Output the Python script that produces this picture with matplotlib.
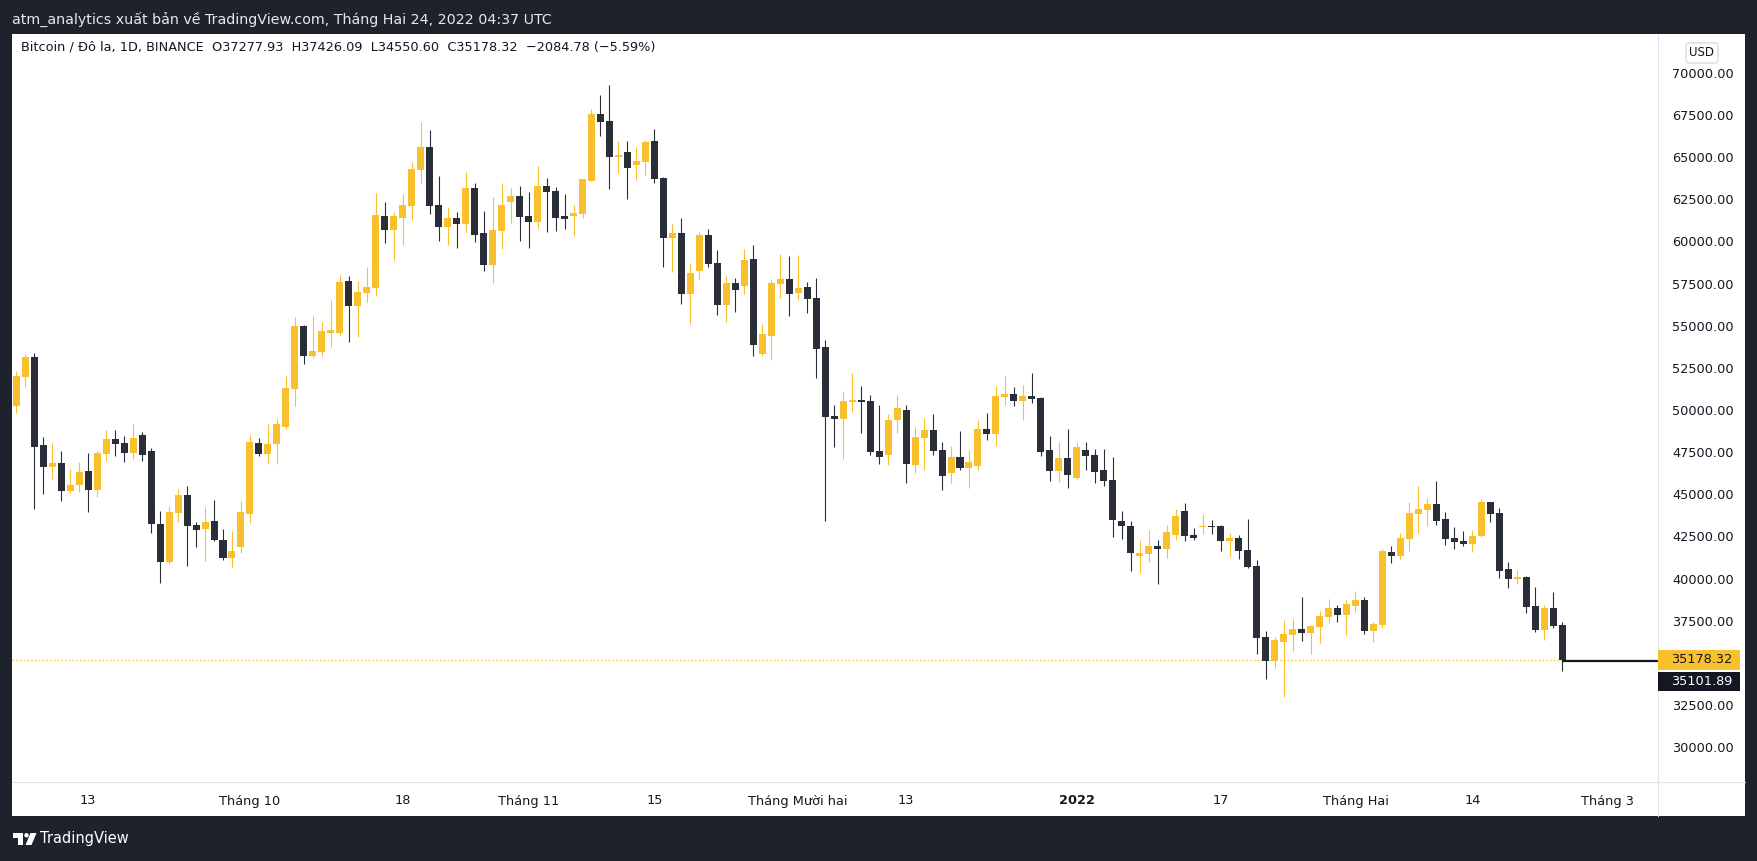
import matplotlib
matplotlib.use("Agg")
import matplotlib.pyplot as plt
import matplotlib.dates as mdates
from matplotlib import transforms
from matplotlib.lines import Line2D
from matplotlib.patches import Rectangle, Circle, Polygon
import pandas as pd

# daily BTC candles, 2021-09-05 .. 2022-02-24
dates = pd.date_range("2021-09-05", "2022-02-24", freq="D")

opens = [
    50256, 51976, 53143, 47904, 46638, 46856, 45215, 45551, 46381, 45274,
    47409, 48279, 48042, 47469, 48516, 47567, 43238, 41004, 43910, 44958,
    43159, 42961, 43416, 42289, 41241, 41893,
    43848, 48040, 47407, 48000, 49008, 51262, 54979, 53219, 53457, 54584,
    54584, 57648, 56185, 56956, 57252, 61503, 60692, 61404, 62116, 64251,
    65595, 62155, 60870, 61384, 61048, 63164, 60494, 58616, 60633, 62353,
    62689,
    61503, 61167, 63282, 62985, 61503, 61523, 61641, 63598, 67552, 67137,
    65022, 65299, 64547, 64725, 65951, 63757, 60218, 60494, 56896, 58260,
    60376, 58717, 56246, 57531, 57372, 58954, 53339, 54407, 57491, 57768,
    56957, 57294, 56641, 53735, 49642, 49484, 50493, 50591, 50532, 47567,
    47349, 49425, 49998, 46756, 48358, 48812, 47627, 46283, 47212, 46579,
    46698, 48873, 48596, 50790, 50948, 50553, 50830, 50711, 47627, 46401,
    47153,
    45986, 47627, 47331, 46441, 45848, 43416, 43119, 41360, 41479, 41933,
    41757, 42587, 44010, 42587, 43061, 43121, 43121, 42231, 42409, 41697,
    40748, 36537, 35134, 36241, 36656, 37012, 36775, 37130, 37723, 38257,
    37842,
    38376, 38732, 36893, 37249, 41579, 41341, 42350, 43832, 44070, 44425,
    43536, 42409, 42231, 42053, 42528, 44544, 43892, 40570, 39977, 40096,
    38376, 36952, 38257, 37277.93,
]
highs = [
    52293, 53321, 53380, 48398, 48042, 47567, 46500, 46915, 47449, 47627,
    48813, 48813, 48457, 49169, 48694, 47745, 44009, 44305, 45314, 45492,
    43356, 44246, 44661, 42941, 42823, 44602,
    48514, 48336, 49167, 49463, 52013, 55513, 55038, 55572, 55216, 56521,
    58004, 57944, 57648, 58478, 62867, 62333, 61740, 62808, 64706, 67078,
    66604, 63875, 62037, 61740, 64113, 63460, 61799, 62630, 63460, 63163,
    63282,
    62926, 64468, 63757, 63223, 62808, 62155, 63697, 67849, 68679, 69272,
    65951, 65951, 65595, 66010, 66663, 63816, 61028, 61384, 58715, 60554,
    60732, 59488, 58005, 57827, 59547, 59784, 55099, 57768, 59251, 59132,
    59191, 57590, 57827, 54150, 50295, 51125, 52193, 51422, 50888, 50295,
    49761, 50888, 50295, 48990, 49524, 49761, 48102, 47864, 48754, 47627,
    49406, 49822, 51423, 52016, 51364, 51482, 52194, 50771, 48457, 48102,
    48873,
    48102, 48102, 47686, 47686, 47212, 44009, 43416, 42289, 42882, 42289,
    43180, 44129, 44485, 43002, 43832, 43476, 43180, 42705, 42587, 43536,
    41104, 36893, 36537, 37545, 37605, 38910, 37249, 38079, 38791, 38435,
    38732,
    39266, 38910, 37427, 41757, 41934, 42705, 44544, 45493, 44781, 45790,
    43951, 43061, 42824, 42883, 44722, 44544, 44188, 40985, 40511, 40155,
    39503, 38435, 39206, 37426.09,
]
lows = [
    49841, 51383, 44147, 45037, 45927, 44622, 45096, 45156, 43969, 44859,
    46994, 47291, 46935, 47113, 47004, 42724, 39758, 40885, 43376, 40767,
    41893, 41063, 42249, 41122, 40707, 41538,
    43315, 47288, 46814, 46814, 48890, 50254, 52745, 53101, 53219, 53753,
    54406, 54050, 54346, 56422, 56778, 59921, 58913, 59803, 61286, 63421,
    61641, 60040, 59803, 59625, 60574, 59981, 58260, 57549, 59565, 61107,
    60040,
    59625, 60811, 60574, 60633, 60751, 60336, 61404, 63598, 66267, 63124,
    64073, 62531, 63638, 63934, 63480, 58498, 58201, 56303, 55117, 57786,
    58498, 55652, 55237, 55830, 56898, 53221, 53221, 52983, 56661, 55593,
    56542, 55771, 51916, 43435, 47823, 47112, 49899, 48654, 47349, 46815,
    46756, 48654, 45688, 46281, 46459, 47349, 45274, 45690, 46461, 45393,
    46461, 48240, 47884, 50316, 50257, 49426, 50434, 47291, 45808, 45749,
    45393,
    45927, 46461, 45690, 45512, 42487, 42368, 40471, 40352, 41004, 39699,
    41223, 42290, 42231, 42290, 42646, 42646, 41638, 41282, 41163, 40630,
    35529, 34046, 34718, 32998, 35707, 36300, 35529, 36181, 37368, 37427,
    36656,
    38020, 36715, 36241, 37071, 40926, 41163, 41638, 42705, 43121, 43180,
    41994, 41757, 41934, 41579, 42468, 43358, 40037, 39444, 39681, 37961,
    36834, 36359, 37071, 34550.60,
]
closes = [
    52016, 53143, 47824, 46638, 46856, 45215, 45551, 46322, 45274, 47449,
    48279, 48002, 47469, 48339, 47350, 43258, 41004, 43950, 44958, 43139,
    42882, 43356, 42289, 41241, 41636, 43950,
    48099, 47407, 47980, 49167, 51302, 54979, 53219, 53496, 54682, 54742,
    57589, 56185, 56995, 57292, 61562, 60692, 61503, 62155, 64291, 65595,
    62116, 60870, 61384, 61048, 63164, 60396, 58616, 60672, 62155, 62689,
    61463,
    61167, 63282, 62946, 61404, 61345, 61681, 63697, 67552, 67098, 65022,
    65121, 64369, 64765, 65892, 63717, 60218, 60494, 56896, 58122, 60376,
    58676, 56246, 57531, 57135, 58895, 53873, 54506, 57531, 57768, 56898,
    57234, 56601, 53636, 49603, 49484, 50532, 50591, 50493, 47527, 47230,
    49405, 50117, 46815, 48397, 48812, 47586, 46105, 47212, 46579, 46915,
    48873, 48596, 50830, 50948, 50553, 50830, 50672, 47528, 46401, 47153,
    46164,
    47805, 47291, 46342, 45808, 43495, 43139, 41538, 41538, 41933, 41775,
    42765, 43714, 42528, 42409, 43121, 43061, 42231, 42409, 41638, 40689,
    36478, 35134, 36359, 36715, 37012, 36775, 37190, 37783, 38257, 37842,
    38494,
    38732, 36893, 37308, 41638, 41341, 42409, 43892, 44129, 44425, 43417,
    42350, 42172, 42053, 42528, 44544, 43832, 40452, 39977, 40096, 38317,
    36952, 38257, 37190, 35178.32,
]

ref_line = 35101.89   # black horizontal line level

price_ticks = [30000, 32500, 37500, 40000, 42500, 45000, 47500, 50000,
               52500, 55000, 57500, 60000, 62500, 65000, 67500, 70000]
tick_dates = ["2021-09-13", "2021-10-01", "2021-10-18", "2021-11-01",
              "2021-11-15", "2021-12-01", "2021-12-13", "2022-01-01",
              "2022-01-17", "2022-02-01", "2022-02-14", "2022-03-01"]
tick_labels = ["13", "Tháng 10", "18", "Tháng 11", "15", "Tháng Mười hai",
               "13", "2022", "17", "Tháng Hai", "14", "Tháng 3"]

header = "atm_analytics xuất bản về TradingView.com, Tháng Hai 24, 2022 04:37 UTC"
legend = ("Bitcoin / Đô la, 1D, BINANCE  O37277.93  H37426.09  L34550.60  "
          "C35178.32  −2084.78 (−5.59%)")

UP = "#F9C02E"
DOWN = "#2A2E39"
TXT = "#131722"
GRID = "#E0E3EB"
BG = "#1E222D"

W, H = 1758, 861
def fx(px):
    return px / W
def fy(py):
    return 1 - py / H

plt.rcParams["font.family"] = ["DejaVu Sans"]

fig = plt.figure(figsize=(W / 100, H / 100), dpi=100, facecolor=BG)

# white chart panel
fig.add_artist(Rectangle((fx(12.5), fy(816)), fx(1745) - fx(12.5), fy(34) - fy(816),
                         transform=fig.transFigure, facecolor="white",
                         edgecolor="none", zorder=-1))

ax = fig.add_axes([fx(12.5), fy(782), fx(1658) - fx(12.5), fy(34) - fy(782)])
ax.set_facecolor("white")
for s in ax.spines.values():
    s.set_visible(False)

x = mdates.date2num(dates)
x0 = x[0]
ax.set_xlim(x0 - 0.42, x0 + 182.66)
ymin, ymax = 27940, 72297
ax.set_ylim(ymin, ymax)
px_price = (ymax - ymin) / (782 - 34)   # price units per pixel

for xi, o, h, l, c in zip(x, opens, highs, lows, closes):
    col = UP if c >= o else DOWN
    ax.vlines(xi, l, h, color=col, lw=0.8, zorder=2)
    body = max(abs(c - o), px_price)
    ax.bar(xi, body, bottom=min(o, c), width=0.78, color=col,
           edgecolor="none", zorder=3)

last_close = closes[-1]
ax.axhline(last_close, color=UP, lw=0.9, ls=(0, (1.3, 1.7)), zorder=1)
ax.hlines(ref_line, x[-1], ax.get_xlim()[1], color=TXT, lw=1.6, zorder=4)

# axes ticks
ax.yaxis.tick_right()
ax.set_yticks(price_ticks)
ax.set_yticklabels([f"{v:.2f}" for v in price_ticks])
ax.tick_params(axis="y", length=0, pad=10, labelsize=9.3, labelcolor=TXT)
ax.set_xticks(mdates.date2num(pd.to_datetime(tick_dates)))
ax.set_xticklabels(tick_labels)
ax.tick_params(axis="x", length=0, pad=9, labelsize=9.3, labelcolor=TXT)
ax.get_xticklabels()[7].set_fontweight("bold")

# separators
fig.add_artist(Line2D([fx(1658), fx(1658)], [fy(34), fy(816)], color=GRID,
                      lw=0.8, transform=fig.transFigure))
fig.add_artist(Line2D([fx(12.5), fx(1745)], [fy(782), fy(782)], color=GRID,
                      lw=0.8, transform=fig.transFigure))

# price labels on the axis
blend = transforms.blended_transform_factory(fig.transFigure, ax.transData)
fig.add_artist(Rectangle((fx(1658), last_close - 10 * px_price), fx(1740) - fx(1658),
                         20 * px_price, transform=blend, facecolor=UP,
                         edgecolor="none", zorder=5))
fig.text(fx(1671), last_close, f"{last_close:.2f}", transform=blend, va="center",
         ha="left", fontsize=9.3, color=TXT, zorder=6)
ref_y = last_close - 22 * px_price
fig.add_artist(Rectangle((fx(1658), ref_y - 9.5 * px_price), fx(1740) - fx(1658),
                         19 * px_price, transform=blend, facecolor=TXT,
                         edgecolor="none", zorder=5))
fig.text(fx(1671), ref_y, f"{ref_line:.2f}", transform=blend, va="center",
         ha="left", fontsize=9.3, color="white", zorder=6)

fig.text(fx(1702), fy(53), "USD", ha="center", va="center", fontsize=8.5, color=TXT,
         bbox=dict(boxstyle="round,pad=0.3,rounding_size=0.3", fc="white",
                   ec="#D1D4DC", lw=0.8))

# header / legend
fig.text(fx(12), fy(19), header, color="#E6E8EE", fontsize=10.3, va="center", ha="left")
fig.text(fx(21), fy(47), legend, color=TXT, fontsize=9.3, va="center", ha="left")

# footer logo
pix = transforms.Affine2D().scale(1 / W, -1 / H).translate(0, 1) + fig.transFigure
fig.add_artist(Polygon([(13.5, 833), (23, 833), (23, 845), (18.5, 845),
                        (18.5, 837.5), (13.5, 837.5)], closed=True,
                       facecolor="white", edgecolor="none", transform=pix))
fig.add_artist(Circle((26.5, 835.3), 2.2, facecolor="white", edgecolor="none",
                      transform=pix))
fig.add_artist(Polygon([(30.5, 833), (36.5, 833), (31.5, 845), (25.5, 845)],
                       closed=True, facecolor="white", edgecolor="none",
                       transform=pix))
fig.text(fx(40), fy(839), "TradingView", color="white", fontsize=10.5,
         va="center", ha="left")

fig.savefig("out.png", dpi=100, facecolor=BG)
